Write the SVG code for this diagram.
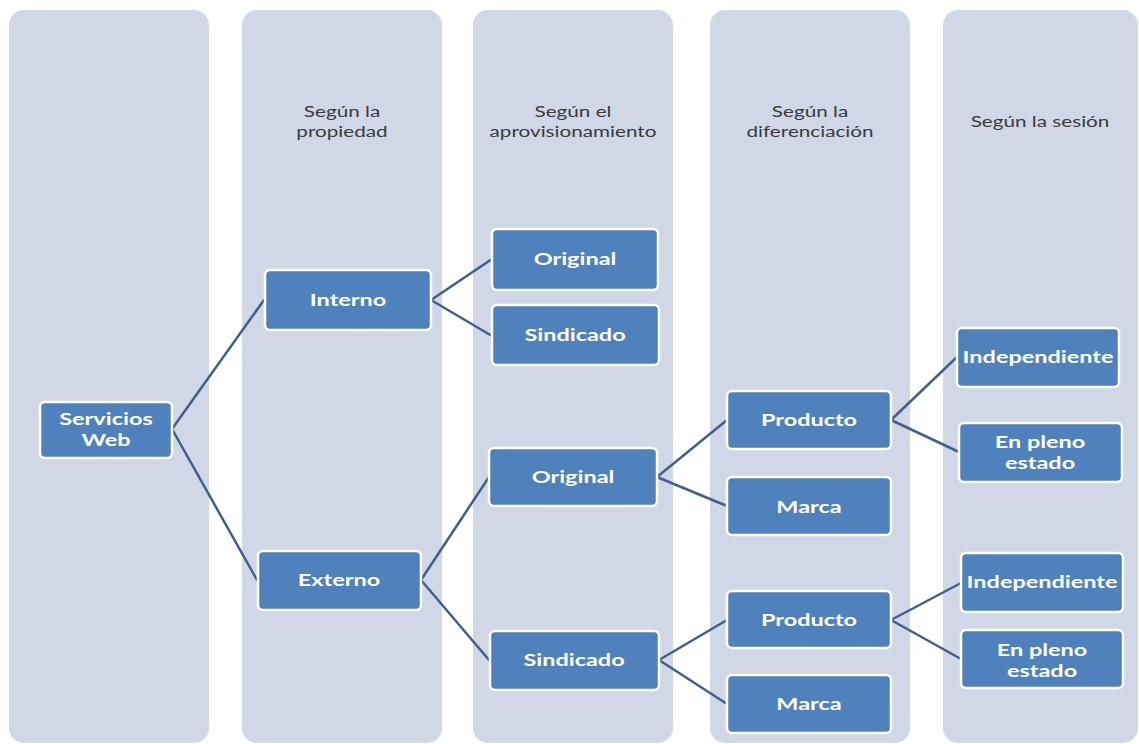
<svg xmlns="http://www.w3.org/2000/svg" width="1139" height="744" viewBox="0 0 1139 744">
  <style>
    .col { fill: #D0D8E7; }
    .hdr { font-family: Lato, "Open Sans", sans-serif; font-size: 15px; fill: #3A3A3A; text-anchor: middle; }
    .box { fill: #4F81BD; stroke: #FFFFFF; stroke-width: 2.5; }
    .lbl { font-family: Lato, "Open Sans", sans-serif; font-size: 17px; font-weight: bold; fill: #FFFFFF; text-anchor: middle; }
    .link { stroke: #3F5F8E; stroke-width: 2.5; fill: none; stroke-linecap: round; }
  </style>
  <rect width="1139" height="744" fill="#FFFFFF"/>

  <!-- column bands with their headings -->
  <g id="columns">
    <rect class="col" x="9" y="10" width="200" height="733" rx="15"/>
    <g id="col-propiedad">
      <rect class="col" x="242" y="10" width="200" height="733" rx="15"/>
      <text class="hdr" transform="translate(342,117) scale(1.38,1)">Según la</text>
      <text class="hdr" transform="translate(342,137) scale(1.38,1)">propiedad</text>
    </g>
    <g id="col-aprovisionamiento">
      <rect class="col" x="473" y="10" width="200" height="733" rx="15"/>
      <text class="hdr" transform="translate(573,117) scale(1.38,1)">Según el</text>
      <text class="hdr" transform="translate(573,137) scale(1.38,1)">aprovisionamiento</text>
    </g>
    <g id="col-diferenciacion">
      <rect class="col" x="710" y="10" width="200" height="733" rx="15"/>
      <text class="hdr" transform="translate(810,117) scale(1.38,1)">Según la</text>
      <text class="hdr" transform="translate(810,137) scale(1.38,1)">diferenciación</text>
    </g>
    <g id="col-sesion">
      <rect class="col" x="943" y="10" width="195" height="733" rx="15"/>
      <text class="hdr" transform="translate(1040,127) scale(1.38,1)">Según la sesión</text>
    </g>
  </g>

  <!-- tree connectors -->
  <g id="connectors">
    <path class="link" d="M172,429 L264,300 M172,429 L257,580"/>
    <path class="link" d="M431,300 L492,259 M431,300 L492,336"/>
    <path class="link" d="M421,580 L489,477 M421,580 L489,660"/>
    <path class="link" d="M657,477 L727,420 M657,477 L727,506"/>
    <path class="link" d="M659,660 L727,620 M659,660 L727,704"/>
    <path class="link" d="M891,420 L957,357 M891,420 L959,452"/>
    <path class="link" d="M891,620 L961,583 M891,620 L961,659"/>
  </g>

  <g id="n-servicios">
    <rect class="box" x="40" y="402" width="132" height="56" rx="5"/>
    <text class="lbl" transform="translate(106,425) scale(1.38,1)">Servicios</text>
    <text class="lbl" transform="translate(106,446) scale(1.38,1)">Web</text>
  </g>
  <g id="n-interno">
    <rect class="box" x="265" y="270" width="166" height="60" rx="5"/>
    <text class="lbl" transform="translate(348,306) scale(1.38,1)">Interno</text>
  </g>
  <g id="n-externo">
    <rect class="box" x="258" y="551" width="163" height="59" rx="5"/>
    <text class="lbl" transform="translate(339,586) scale(1.38,1)">Externo</text>
  </g>
  <g id="n-original-interno">
    <rect class="box" x="492" y="229" width="166" height="61" rx="5"/>
    <text class="lbl" transform="translate(575,265) scale(1.38,1)">Original</text>
  </g>
  <g id="n-sindicado-interno">
    <rect class="box" x="492" y="305" width="167" height="60" rx="5"/>
    <text class="lbl" transform="translate(575,341) scale(1.38,1)">Sindicado</text>
  </g>
  <g id="n-original-externo">
    <rect class="box" x="489" y="448" width="168" height="58" rx="5"/>
    <text class="lbl" transform="translate(573,483) scale(1.38,1)">Original</text>
  </g>
  <g id="n-sindicado-externo">
    <rect class="box" x="490" y="631" width="169" height="59" rx="5"/>
    <text class="lbl" transform="translate(574,666) scale(1.38,1)">Sindicado</text>
  </g>
  <g id="n-producto-1">
    <rect class="box" x="727" y="391" width="164" height="58" rx="5"/>
    <text class="lbl" transform="translate(809,426) scale(1.38,1)">Producto</text>
  </g>
  <g id="n-marca-1">
    <rect class="box" x="727" y="477" width="164" height="58" rx="5"/>
    <text class="lbl" transform="translate(809,513) scale(1.38,1)">Marca</text>
  </g>
  <g id="n-producto-2">
    <rect class="box" x="727" y="591" width="164" height="57" rx="5"/>
    <text class="lbl" transform="translate(809,626) scale(1.38,1)">Producto</text>
  </g>
  <g id="n-marca-2">
    <rect class="box" x="727" y="675" width="164" height="58" rx="5"/>
    <text class="lbl" transform="translate(809,710) scale(1.38,1)">Marca</text>
  </g>
  <g id="n-independiente-1">
    <rect class="box" x="957" y="328" width="162" height="59" rx="5"/>
    <text class="lbl" transform="translate(1038,363) scale(1.38,1)">Independiente</text>
  </g>
  <g id="n-pleno-1">
    <rect class="box" x="959" y="423" width="163" height="59" rx="5"/>
    <text class="lbl" transform="translate(1040,448) scale(1.38,1)">En pleno</text>
    <text class="lbl" transform="translate(1040,469) scale(1.38,1)">estado</text>
  </g>
  <g id="n-independiente-2">
    <rect class="box" x="961" y="553" width="162" height="59" rx="5"/>
    <text class="lbl" transform="translate(1042,588) scale(1.38,1)">Independiente</text>
  </g>
  <g id="n-pleno-2">
    <rect class="box" x="961" y="630" width="162" height="58" rx="5"/>
    <text class="lbl" transform="translate(1042,656) scale(1.38,1)">En pleno</text>
    <text class="lbl" transform="translate(1042,677) scale(1.38,1)">estado</text>
  </g>
</svg>
